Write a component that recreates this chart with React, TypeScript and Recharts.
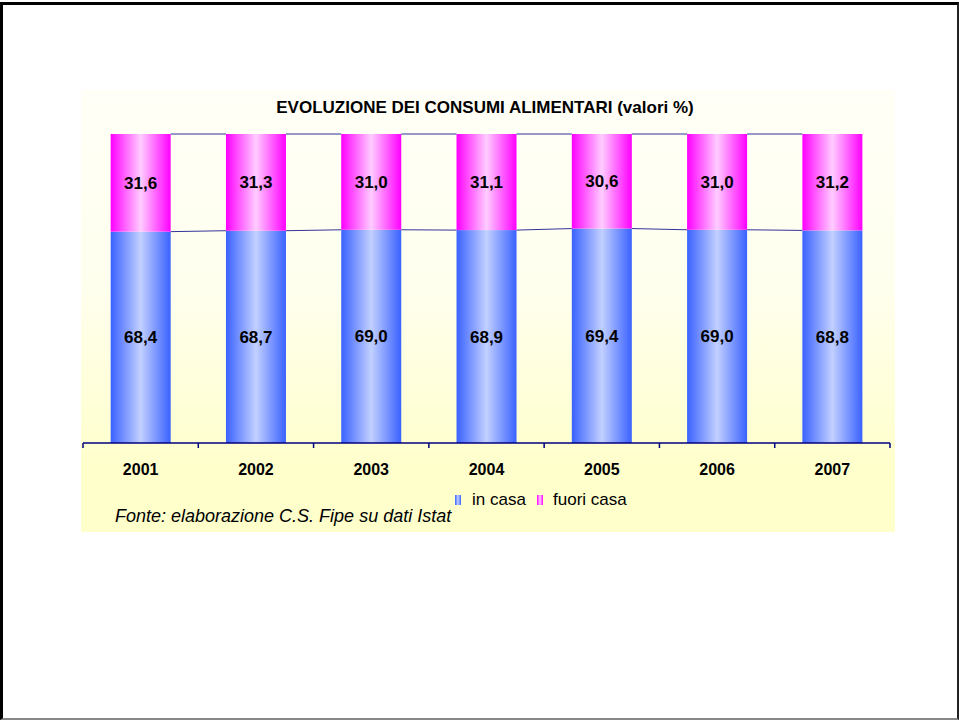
import React from "react";
import { BarChart, Bar, XAxis, YAxis, LabelList } from "recharts";

const years = ["2001", "2002", "2003", "2004", "2005", "2006", "2007"];
const inCasa = [68.4, 68.7, 69.0, 68.9, 69.4, 69.0, 68.8];
const fuoriCasa = [31.6, 31.3, 31.0, 31.1, 30.6, 31.0, 31.2];

const data = years.map((year, i) => ({
  year,
  inCasa: inCasa[i],
  fuoriCasa: fuoriCasa[i],
}));

const FONT = '"Liberation Sans", Arial, sans-serif';
const CHART_W = 814;
const CHART_H = 442;
const MARGIN = { top: 44, right: 5, bottom: 49, left: 2 };
const PITCH = (CHART_W - MARGIN.left - MARGIN.right) / years.length;

const fmt = (v: any) => Number(v).toFixed(1).replace(".", ",");

// bar with gradient fill + excel-style series line to the next bar
const makeShape = (values: number[], below: number[], fill: string) => (props: any) => {
  const { x, y, width, height, index } = props;
  const ppu = height / values[index];
  const zeroY = y + height + below[index] * ppu;
  const hasNext = index < values.length - 1;
  const nextY = hasNext ? zeroY - (below[index + 1] + values[index + 1]) * ppu : 0;
  return (
    <g>
      <rect x={x} y={y} width={width} height={height} fill={fill} />
      {hasNext && (
        <line x1={x + width} y1={y} x2={x + PITCH} y2={nextY} stroke="#333399" strokeWidth={1} />
      )}
    </g>
  );
};

const zeros = years.map(() => 0);

const YearTick = (props: any) => {
  const { x, y, payload, index, visibleTicksCount } = props;
  return (
    <g>
      <line x1={x - PITCH / 2} y1={y} x2={x - PITCH / 2} y2={y + 5} stroke="#000080" strokeWidth={1.5} />
      {index === visibleTicksCount - 1 && (
        <line x1={x + PITCH / 2} y1={y} x2={x + PITCH / 2} y2={y + 5} stroke="#000080" strokeWidth={1.5} />
      )}
      <text x={x} y={y + 32} textAnchor="middle" fontSize={16} fontWeight="bold" fill="#000" fontFamily={FONT}>
        {payload.value}
      </text>
    </g>
  );
};

const Grad = ({ id, edge, mid }: { id: string; edge: string; mid: string }) => (
  <linearGradient id={id} x1="0" y1="0" x2="1" y2="0">
    <stop offset="0%" stopColor={edge} />
    <stop offset="50%" stopColor={mid} />
    <stop offset="100%" stopColor={edge} />
  </linearGradient>
);

export default function App() {
  return (
    <div style={{ position: "absolute", left: 0, top: 0, width: 959, height: 720, background: "#fff" }}>
      <div
        style={{
          position: "absolute",
          left: 0,
          top: 2,
          width: 954,
          height: 713,
          borderTop: "3px solid #000",
          borderLeft: "3px solid #000",
          borderRight: "2px solid #222",
          borderBottom: "2px solid #888",
        }}
      />
      <div
        style={{
          position: "absolute",
          left: 81,
          top: 90,
          width: CHART_W,
          height: CHART_H,
          background: "linear-gradient(to bottom, #FFFFF7 0%, #FFFFEE 45%, #FFFFCC 85%, #FFFFCC 100%)",
        }}
      >
        <BarChart width={CHART_W} height={CHART_H} data={data} margin={MARGIN} barCategoryGap="24%">
          <defs>
            <Grad id="gBlue" edge="#3A62FF" mid="#C2D0FF" />
            <Grad id="gPink" edge="#FF00FF" mid="#FFCCFF" />
          </defs>
          <XAxis
            dataKey="year"
            axisLine={{ stroke: "#000080", strokeWidth: 1.5 }}
            tickLine={false}
            tickSize={0}
            tickMargin={0}
            height={40}
            tick={<YearTick />}
            interval={0}
          />
          <YAxis hide domain={[0, 100]} />
          <Bar
            dataKey="inCasa"
            stackId="a"
            isAnimationActive={false}
            shape={makeShape(inCasa, zeros, "url(#gBlue)")}
          >
            <LabelList
              dataKey="inCasa"
              position="center"
              formatter={fmt}
              style={{ fontSize: 17, fontWeight: "bold", fill: "#000", fontFamily: FONT }}
            />
          </Bar>
          <Bar
            dataKey="fuoriCasa"
            stackId="a"
            isAnimationActive={false}
            shape={makeShape(fuoriCasa, inCasa, "url(#gPink)")}
          >
            <LabelList
              dataKey="fuoriCasa"
              position="center"
              formatter={fmt}
              style={{ fontSize: 17, fontWeight: "bold", fill: "#000", fontFamily: FONT }}
            />
          </Bar>
        </BarChart>
      </div>
      <svg width={959} height={720} style={{ position: "absolute", left: 0, top: 0, pointerEvents: "none" }}>
        <defs>
          <Grad id="lBlue" edge="#3A62FF" mid="#C2D0FF" />
          <Grad id="lPink" edge="#FF00FF" mid="#FFCCFF" />
        </defs>
        <text x={485} y={113} textAnchor="middle" fontSize={17} fontWeight="bold" fontFamily={FONT} fill="#000">
          EVOLUZIONE DEI CONSUMI ALIMENTARI (valori %)
        </text>
        <rect x={455} y={495} width={6} height={10} fill="url(#lBlue)" />
        <text x={472} y={505} fontSize={17} fontFamily={FONT} fill="#000">in casa</text>
        <rect x={537} y={495} width={6} height={10} fill="url(#lPink)" />
        <text x={553} y={505} fontSize={17} fontFamily={FONT} fill="#000">fuori casa</text>
        <text x={115} y={522} fontSize={18} fontStyle="italic" fontFamily={FONT} fill="#000">
          Fonte: elaborazione C.S. Fipe su dati Istat
        </text>
      </svg>
    </div>
  );
}
